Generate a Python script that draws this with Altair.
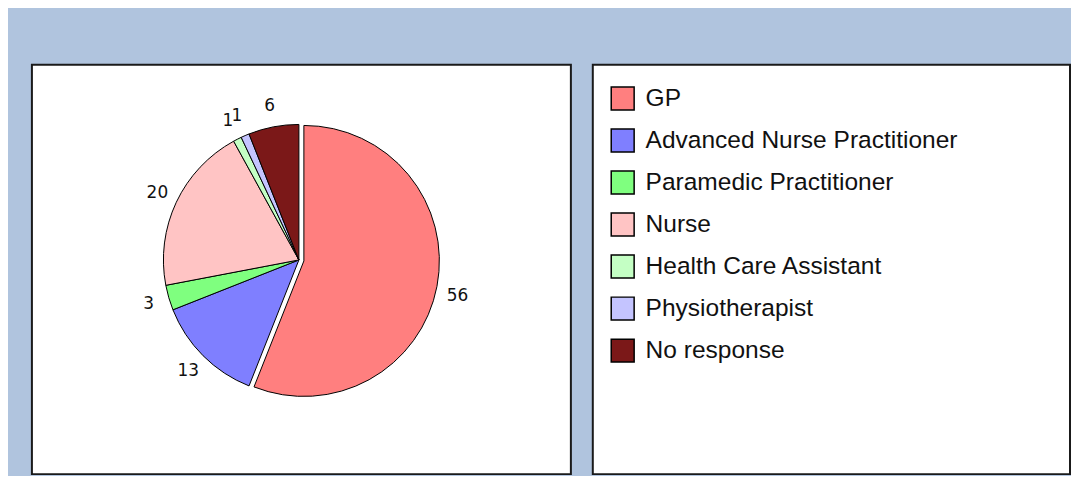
import altair as alt
import pandas as pd

categories = ["GP", "Advanced Nurse Practitioner", "Paramedic Practitioner", "Nurse",
              "Health Care Assistant", "Physiotherapist", "No response"]
values = [56, 13, 3, 20, 1, 1, 6]
colors = ["#FF7F7F", "#7F7FFF", "#7FFF7F", "#FFC4C4", "#C4FFC4", "#C4C4FF", "#7B1818"]
exploded = ["GP"]

df = pd.DataFrame({"category": categories, "value": values, "ord": list(range(len(categories)))})
df["explode"] = df["category"].isin(exploded)

color = alt.Color("category:N", scale=alt.Scale(domain=categories, range=colors), legend=None)

W1, H1 = 541, 411
W2 = 479
cx, cy = 268, 196
dx, dy = 5, 1
R = 136
RL = 157

base = alt.Chart(df).encode(
    theta=alt.Theta("value:Q", stack=True),
    order=alt.Order("ord:Q"),
)

arcs_rest = base.mark_arc(radius=R, stroke="black", strokeWidth=1).encode(
    x=alt.value(cx), y=alt.value(cy), color=color,
    opacity=alt.condition("datum.explode", alt.value(0), alt.value(1)),
)
arcs_exp = base.mark_arc(radius=R, stroke="black", strokeWidth=1).encode(
    x=alt.value(cx + dx), y=alt.value(cy + dy), color=color,
    opacity=alt.condition("datum.explode", alt.value(1), alt.value(0)),
)
lab_rest = base.mark_text(radius=RL, font="DejaVu Sans", fontSize=17, color="#111111").encode(
    x=alt.value(cx), y=alt.value(cy), text="value:Q",
    opacity=alt.condition("datum.explode", alt.value(0), alt.value(1)),
)
lab_exp = base.mark_text(radius=RL, font="DejaVu Sans", fontSize=17, color="#111111").encode(
    x=alt.value(cx + dx), y=alt.value(cy + dy + 6), text="value:Q",
    opacity=alt.condition("datum.explode", alt.value(1), alt.value(0)),
)

pie = alt.layer(arcs_rest, arcs_exp, lab_rest, lab_exp).properties(width=W1, height=H1)

leg = alt.Chart(df).encode(
    y=alt.Y("category:N", sort=categories,
            scale=alt.Scale(type="point", range=[34, 287], padding=0), axis=None),
)
squares = leg.mark_square(size=23 * 23, stroke="black", strokeWidth=1.5, opacity=1).encode(
    x=alt.value(30), color=color,
)
texts = leg.mark_text(align="left", baseline="middle", font="Liberation Sans", fontSize=24.6,
                      color="#111111").encode(x=alt.value(53), text="category:N")
legend = alt.layer(squares, texts).properties(width=W2, height=H1)

chart = alt.hconcat(pie, legend, spacing=20).properties(
    padding={"left": 23, "top": 55, "right": 0, "bottom": 0},
    background="#B0C4DE",
).configure_view(fill="white", stroke="#1a1a1a", strokeWidth=2)

chart.save("out.html", embed_options={"renderer": "svg", "actions": False})
